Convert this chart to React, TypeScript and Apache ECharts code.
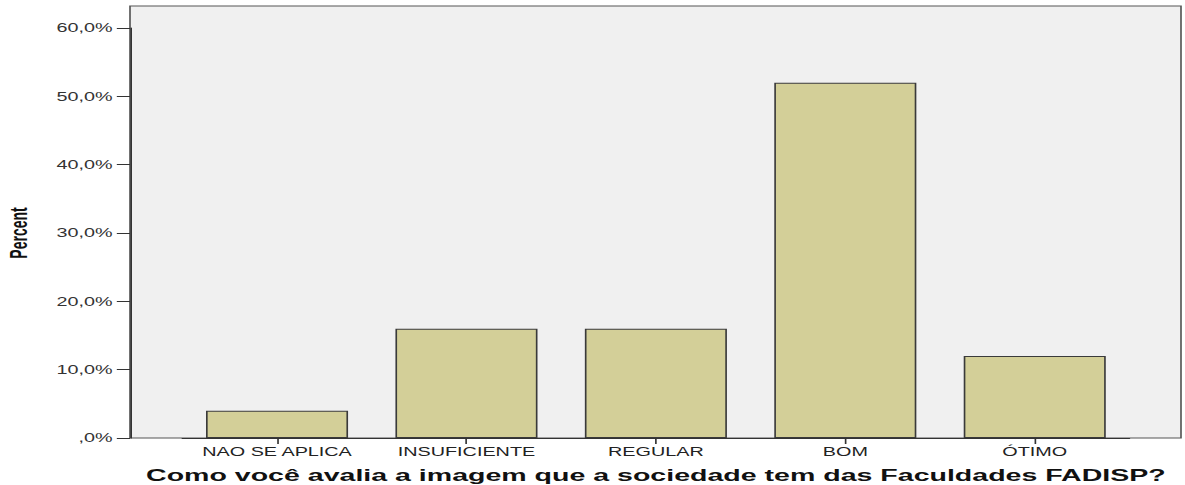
import React, { useEffect, useRef } from "react";
import * as echarts from "echarts";

const categories = ["NAO SE APLICA", "INSUFICIENTE", "REGULAR", "BOM", "ÓTIMO"];
const percentValues = [4, 16, 16, 52, 12];
const yTicks = { min: 0, max: 60, interval: 10 };
const xTitle = "Como você avalia a imagem que a sociedade tem das Faculdades FADISP?";
const yTitle = "Percent";

const STRETCH = 1.65;
const FULL_W = 1185;
const FULL_H = 485;
const INNER_W = FULL_W / STRETCH;
const FONT = "'Liberation Sans', Arial, Helvetica, sans-serif";

export default function App() {
  const ref = useRef<HTMLDivElement>(null);

  useEffect(() => {
    document.body.style.margin = "0";
    if (!ref.current) return;
    const chart = echarts.init(ref.current, undefined, { renderer: "svg" });

    const frameLeft = 130 / STRETCH;
    const frameRight = 1181 / STRETCH;
    const gridLeft = 110.5;
    const gridRight = INNER_W - 684.7;

    chart.setOption({
      animation: false,
      backgroundColor: "#ffffff",
      textStyle: { fontFamily: FONT },
      graphic: [
        {
          type: "rect",
          z: -10,
          shape: { x: frameLeft, y: 6, width: frameRight - frameLeft, height: 432 },
          style: { fill: "#F0F0F0", stroke: "#555555", lineWidth: 1 },
        },
      ],
      grid: {
        left: gridLeft,
        right: gridRight,
        top: 28,
        bottom: FULL_H - 438,
        containLabel: false,
        outerBoundsMode: "none",
      },
      xAxis: {
        type: "category",
        data: categories,
        name: xTitle,
        nameLocation: "middle",
        nameGap: 29,
        nameTextStyle: { fontSize: 17.3, fontWeight: "bold", color: "#111", fontFamily: FONT },
        axisLine: { show: true, lineStyle: { color: "#333", width: 1 } },
        axisTick: { show: true, alignWithLabel: true, length: 6, lineStyle: { color: "#333" } },
        axisLabel: { interval: 0, fontSize: 12, color: "#222", margin: 8, fontFamily: FONT },
        splitLine: { show: false },
      },
      yAxis: {
        type: "value",
        min: yTicks.min,
        max: yTicks.max,
        interval: yTicks.interval,
        offset: gridLeft - frameLeft,
        name: yTitle,
        nameLocation: "middle",
        nameGap: 60,
        nameRotate: 90,
        nameTextStyle: { fontSize: 14, fontWeight: "bold", color: "#111", fontFamily: FONT },
        axisLine: { show: true, lineStyle: { color: "#333", width: 1 } },
        axisTick: { show: true, length: 8, lineStyle: { color: "#333" } },
        axisLabel: {
          fontSize: 12,
          color: "#333",
          margin: 10.5,
          fontFamily: FONT,
          formatter: (v: number) => (v === 0 ? ",0%" : v.toFixed(1).replace(".", ",") + "%"),
        },
        splitLine: { show: false },
      },
      series: [
        {
          type: "bar",
          data: percentValues,
          barWidth: "75%",
          itemStyle: { color: "#D3CF98", borderColor: "#3a3a3a", borderWidth: 1 },
        },
      ],
    });

    return () => chart.dispose();
  }, []);

  return (
    <div style={{ width: FULL_W, height: FULL_H, overflow: "hidden", position: "relative" }}>
      <div
        style={{
          width: INNER_W,
          height: FULL_H,
          transform: `scaleX(${STRETCH})`,
          transformOrigin: "0 0",
        }}
      >
        <div ref={ref} style={{ width: INNER_W, height: FULL_H }} />
      </div>
    </div>
  );
}
